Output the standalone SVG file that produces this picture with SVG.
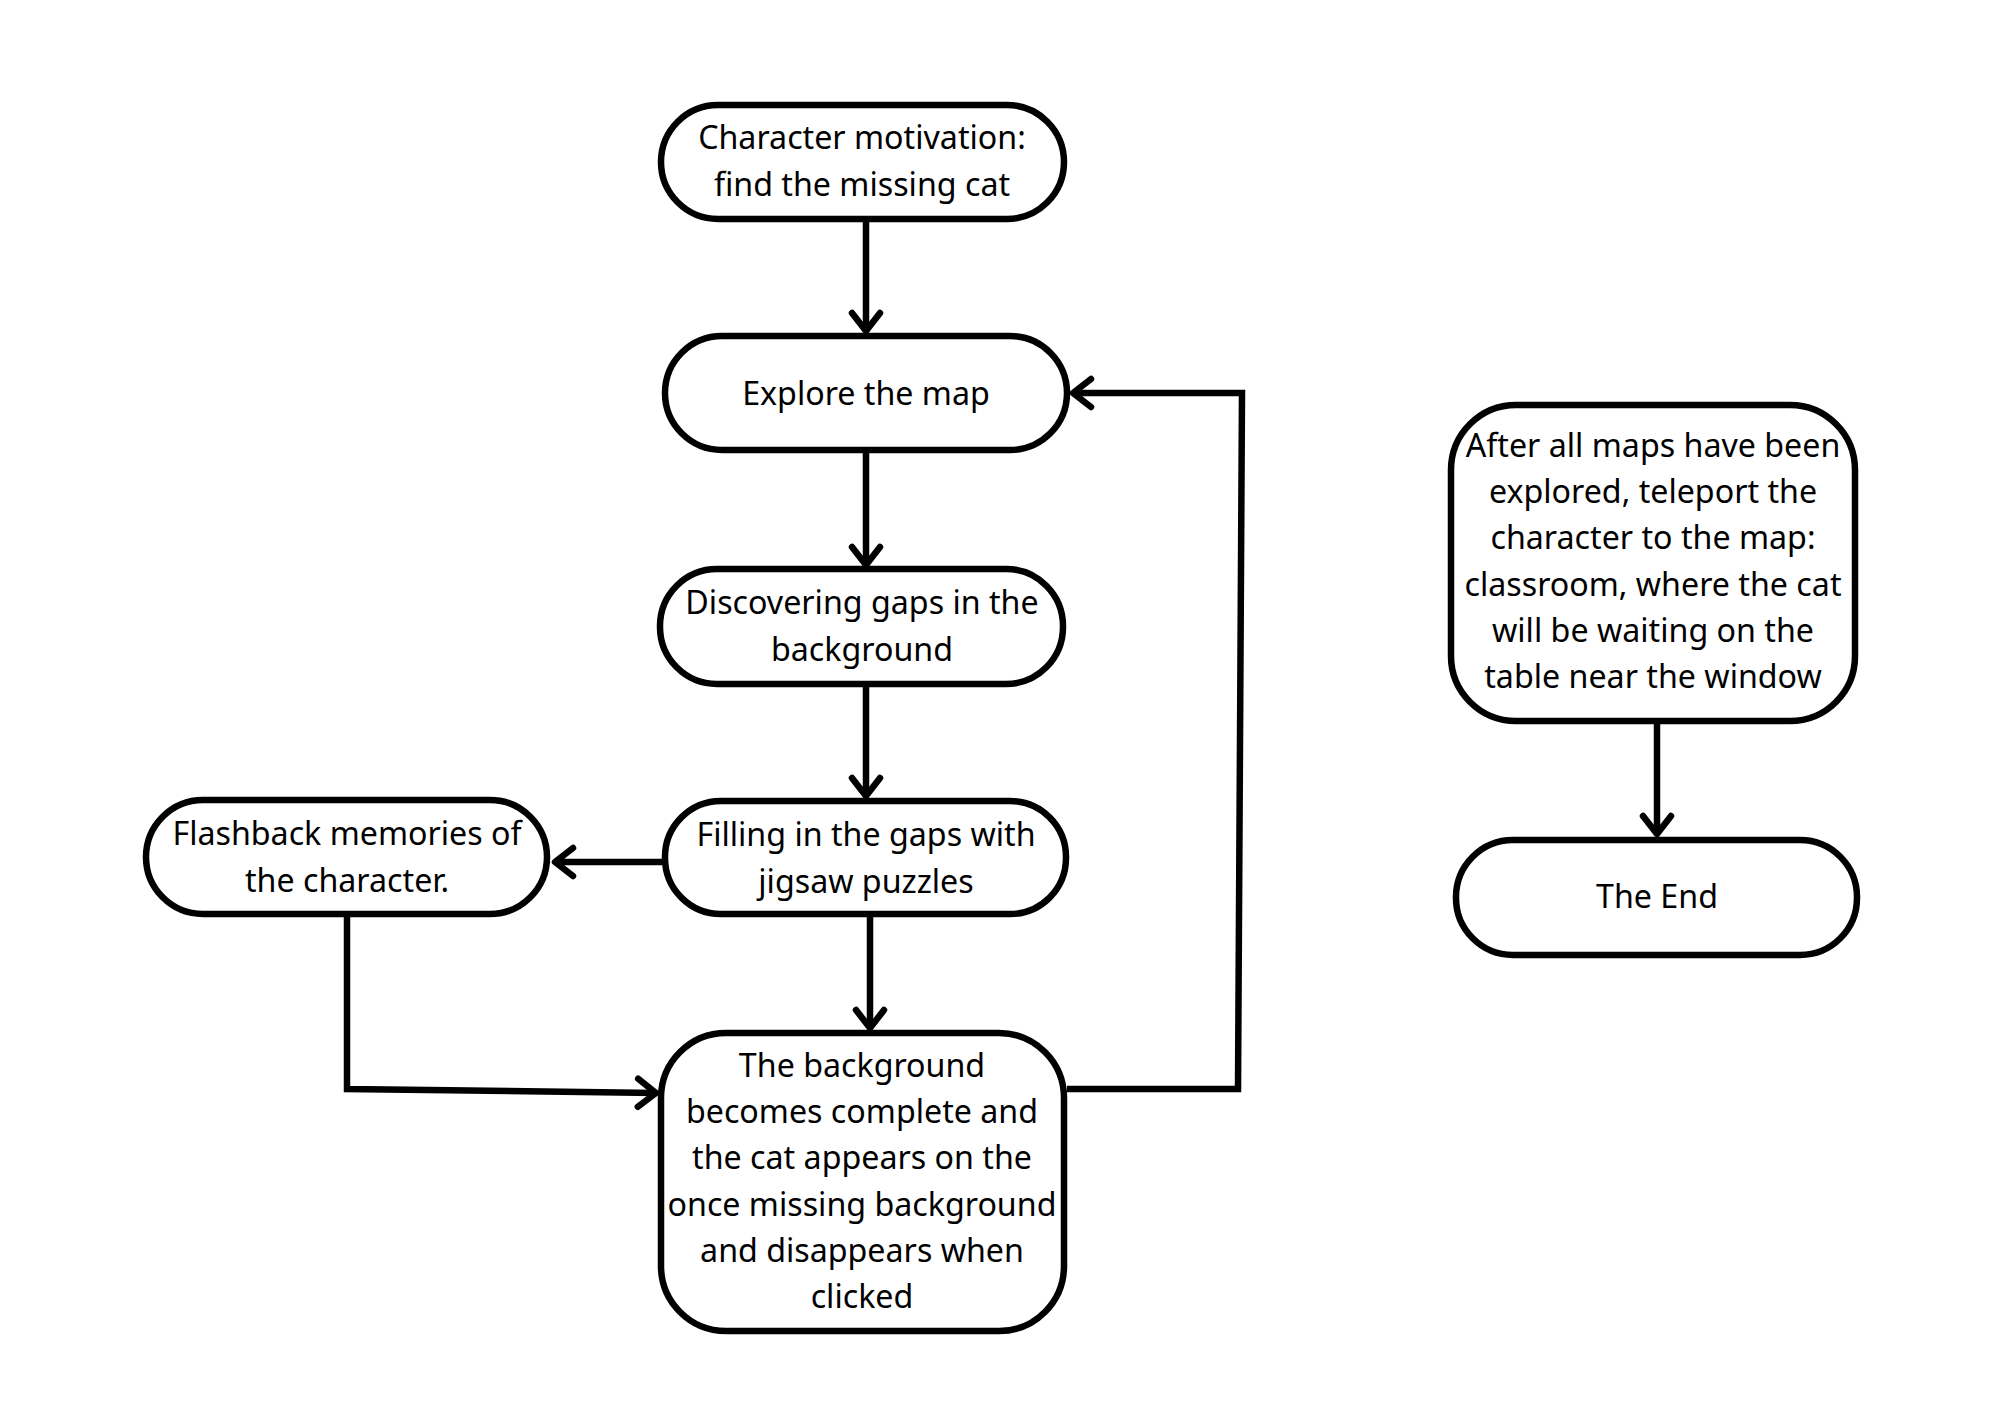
<svg xmlns="http://www.w3.org/2000/svg" width="2000" height="1414" viewBox="0 0 2000 1414">
<style>
.box{fill:#fff;stroke:#000;stroke-width:6.5}
.lbl{font-family:"Noto Sans","Open Sans","Liberation Sans",sans-serif;font-size:32.2px;fill:#000;text-anchor:middle}
.edge{fill:none;stroke:#000;stroke-width:6.5;stroke-linejoin:miter}
</style>
<defs>
<marker id="arr" markerUnits="userSpaceOnUse" markerWidth="40" markerHeight="40" viewBox="-25 -20 30 40" refX="0" refY="0" orient="auto" overflow="visible">
<path d="M-18,-14 L0,0 L-18,14" fill="none" stroke="#000" stroke-width="6.5" stroke-linecap="round" stroke-linejoin="round"/>
</marker>
</defs>
<rect width="2000" height="1414" fill="#fff"/>
<g id="connectors">
<path class="edge" d="M866 222 V331" marker-end="url(#arr)"/>
<path class="edge" d="M866 453 V565" marker-end="url(#arr)"/>
<path class="edge" d="M866 687 V796" marker-end="url(#arr)"/>
<path class="edge" d="M870 917 V1028" marker-end="url(#arr)"/>
<path class="edge" d="M662 862 H555" marker-end="url(#arr)"/>
<path class="edge" d="M347 917 V1089 L656 1093" marker-end="url(#arr)"/>
<path class="edge" d="M1067 1089 H1238 L1242 393 H1073" marker-end="url(#arr)"/>
<path class="edge" d="M1657 724 V834" marker-end="url(#arr)"/>
</g>
<g id="n1"><rect class="box" x="661" y="105" width="403" height="114" rx="57"/>
<text class="lbl" x="862" y="149">Character motivation:</text>
<text class="lbl" x="862" y="196">find the missing cat</text></g>
<g id="n2"><rect class="box" x="665" y="336" width="402" height="114" rx="57"/>
<text class="lbl" x="866" y="405">Explore the map</text></g>
<g id="n3"><rect class="box" x="660" y="569" width="403" height="115" rx="57"/>
<text class="lbl" x="862" y="614">Discovering gaps in the</text>
<text class="lbl" x="862" y="661">background</text></g>
<g id="n4"><rect class="box" x="665" y="801" width="401" height="113" rx="56"/>
<text class="lbl" x="866" y="846">Filling in the gaps with</text>
<text class="lbl" x="866" y="893">jigsaw puzzles</text></g>
<g id="n5"><rect class="box" x="146" y="800" width="401" height="114" rx="57"/>
<text class="lbl" x="347" y="845">Flashback memories of</text>
<text class="lbl" x="347" y="892">the character.</text></g>
<g id="n6"><rect class="box" x="661" y="1033" width="403" height="298" rx="65"/>
<text class="lbl" x="862" y="1077">The background</text>
<text class="lbl" x="862" y="1123">becomes complete and</text>
<text class="lbl" x="862" y="1169">the cat appears on the</text>
<text class="lbl" x="862" y="1216">once missing background</text>
<text class="lbl" x="862" y="1262">and disappears when</text>
<text class="lbl" x="862" y="1308">clicked</text></g>
<g id="n7"><rect class="box" x="1451" y="405" width="404" height="316" rx="65"/>
<text class="lbl" x="1653" y="457">After all maps have been</text>
<text class="lbl" x="1653" y="503">explored, teleport the</text>
<text class="lbl" x="1653" y="549">character to the map:</text>
<text class="lbl" x="1653" y="596">classroom, where the cat</text>
<text class="lbl" x="1653" y="642">will be waiting on the</text>
<text class="lbl" x="1653" y="688">table near the window</text></g>
<g id="n8"><rect class="box" x="1456" y="840" width="401" height="115" rx="57"/>
<text class="lbl" x="1657" y="908">The End</text></g>
</svg>
